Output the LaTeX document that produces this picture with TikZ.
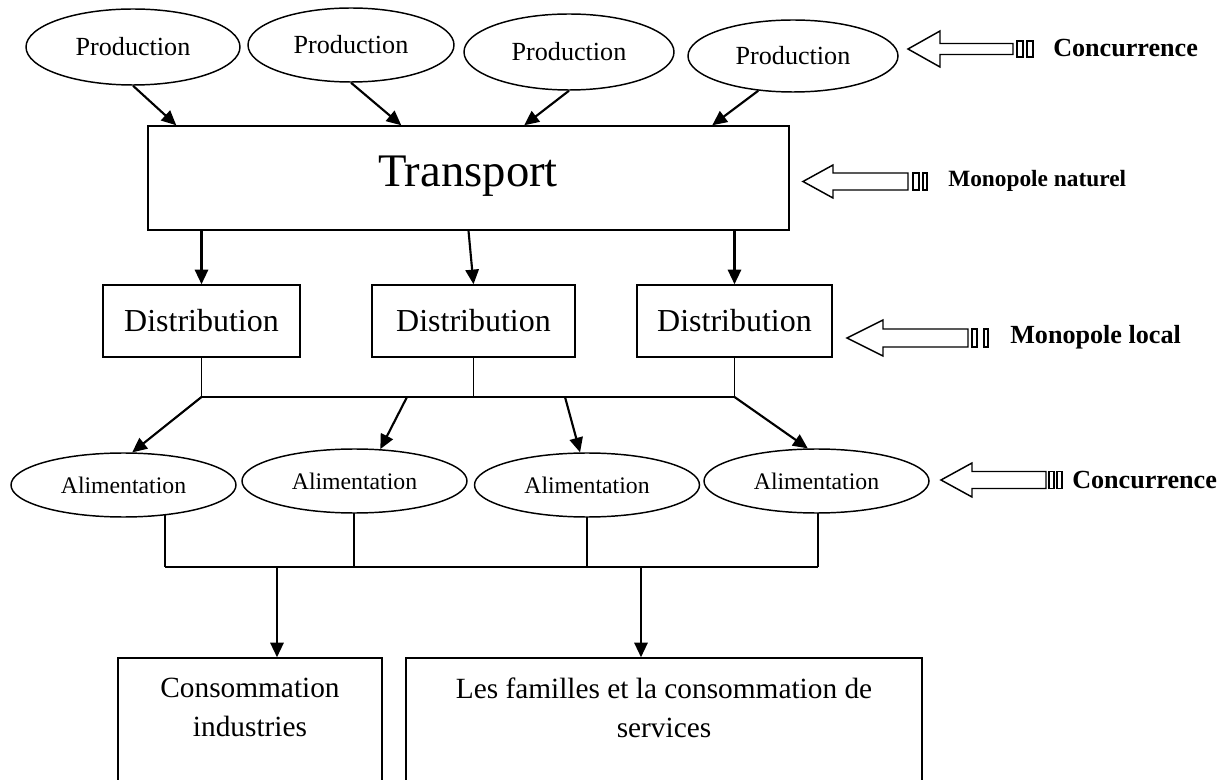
\documentclass[tikz,border=0pt]{standalone}
\usepackage{fontspec}
\setmainfont{Liberation Serif}
\usetikzlibrary{shapes.geometric,arrows.meta,calc}
\pgfdeclarelayer{background}
\pgfsetlayers{background,main}
\begin{document}
\begin{tikzpicture}[x=0.75pt,y=-0.75pt,
  line/.style={line width=1.1pt},
  arr/.style={line width=1.6pt,-{Triangle[length=11pt,width=10pt]}},
  prod/.style={draw,ellipse,fill=white,line width=1.1pt,inner sep=0pt,
    font=\fontsize{19.6}{23}\selectfont},
  alim/.style={draw,ellipse,fill=white,line width=1.1pt,inner sep=0pt,
    minimum width=168.75pt,minimum height=48pt,font=\fontsize{17.8}{21}\selectfont},
  box/.style={draw,rectangle,line width=1.1pt,inner sep=0pt},
  dist/.style={box,minimum height=54pt,font=\fontsize{24}{29}\selectfont},
  tag/.style={anchor=west,inner sep=0pt,font=\bfseries\fontsize{19.6}{23}\selectfont},
  blockarrow/.style={draw,line width=1.1pt,fill=white,line join=miter},
  bottomtext/.style={anchor=north,inner sep=0pt,align=center,
    font=\fontsize{22}{29.3}\selectfont}
]
\useasboundingbox (0,0) rectangle (1232,780);
\begin{pgfonlayer}{background}
  \fill[white] (0,0) rectangle (1232,780);
\end{pgfonlayer}
\clip (0,0) rectangle (1232,780);

% production units
\node[prod,minimum width=160.5pt,minimum height=57pt] (p1) at (133,47) {Production};
\node[prod,minimum width=154.5pt,minimum height=55.5pt] (p2) at (351,45) {Production};
\node[prod,minimum width=157.5pt,minimum height=57pt] (p3) at (569,52) {Production};
\node[prod,minimum width=157.5pt,minimum height=54pt] (p4) at (793,56) {Production};

% transport network
\node[box,minimum width=480.75pt,minimum height=78pt] (tr) at (468.5,178) {};
\node[inner sep=0pt,anchor=base,font=\fontsize{35}{40}\selectfont] (trt) at (468,187) {Transport};

% distribution
\node[dist,minimum width=147.75pt] (d1) at (201.5,321) {Distribution};
\node[dist,minimum width=152.25pt] (d2) at (473.5,321) {Distribution};
\node[dist,minimum width=146.25pt] (d3) at (734.5,321) {Distribution};

% supply
\node[alim] (a1) at (123.5,485) {Alimentation};
\node[alim] (a2) at (354.5,481) {Alimentation};
\node[alim] (a3) at (587,485) {Alimentation};
\node[alim] (a4) at (816.5,481) {Alimentation};

% consumers
\node[box,minimum width=198pt,minimum height=106.5pt] (c1) at (250,729) {};
\node[bottomtext] (c1t) at (250,678) {Consommation\\industries};
\node[box,minimum width=387pt,minimum height=106.5pt] (c2) at (664,729) {};
\node[bottomtext] (c2t) at (664,678) {Les familles et la consommation de\\services};

% production -> transport
\draw[arr] (p1.south) -- ($(tr.north west)+(29,0)$);
\draw[arr] (p2.south) -- ($(tr.north west)+(254,0)$);
\draw[arr] (p3.south) -- ($(tr.north west)+(377,0)$);
\draw[arr] (p4.225) -- ($(tr.north west)+(565,0)$);

% transport -> distribution
\draw[arr] (tr.south -| d1.north) -- (d1.north);
\draw[arr] (tr.south) -- (d2.north);
\draw[arr] (tr.south -| d3.north) -- (d3.north);

% distribution bus
\coordinate (busy) at (0,397);
\coordinate (k2) at (407,397);
\coordinate (k3) at (565,397);
\draw[line] (d1.south) -- (d1.south |- busy) -- (d3.south |- busy) -- (d3.south);
\draw[line] (d2.south) -- (d2.south |- busy);

% distribution -> supply
\draw[arr] (d1.south |- busy) -- (a1.75);
\draw[arr] (k2) -- (a2.51);
\draw[arr] (k3) -- (a3.102);
\draw[arr] (d3.south |- busy) -- (a4.105);

% supply bus (the risers start under the white-filled ellipses)
\coordinate (v1) at (165,567);
\coordinate (v2) at (354,567);
\coordinate (v3) at (587,567);
\coordinate (v4) at (818,567);
\begin{pgfonlayer}{background}
  \draw[line] (v1 |- a1.center) -- (v1);
  \draw[line] (v2 |- a2.center) -- (v2);
  \draw[line] (v3 |- a3.center) -- (v3);
  \draw[line] (v4 |- a4.center) -- (v4);
\end{pgfonlayer}
\draw[line] (v1) -- (v4);

% supply -> consumers
\coordinate (w1) at (277,567);
\coordinate (w2) at (641,567);
\draw[arr] (w1) -- (w1 |- c1.north);
\draw[arr] (w2) -- (w2 |- c2.north);

% market regime arrows
\draw[blockarrow] (908,49) -- (940,31) -- (940,43.5) -- (1013,43.5) -- (1013,54.5)
  -- (940,54.5) -- (940,67) -- cycle;
\draw[blockarrow] (1017,41) rectangle (1023,57);
\draw[blockarrow] (1027,41) rectangle (1033,57);
\node[tag] (t1) at (1053,48) {Concurrence};

\draw[blockarrow] (803,181.5) -- (833,165) -- (833,173) -- (908,173) -- (908,190)
  -- (833,190) -- (833,198) -- cycle;
\draw[blockarrow] (913,173) rectangle (919,190);
\draw[blockarrow] (923,173) rectangle (927,190);
\node[tag,font=\bfseries\fontsize{17.5}{21}\selectfont] (t2) at (948,181) {Monopole naturel};

\draw[blockarrow] (847,338) -- (883,320) -- (883,329) -- (968,329) -- (968,347)
  -- (883,347) -- (883,356) -- cycle;
\draw[blockarrow] (972,329) rectangle (977,347);
\draw[blockarrow] (984,329) rectangle (988,347);
\node[tag] (t3) at (1010,337) {Monopole local};

\draw[blockarrow] (941,480) -- (972,463) -- (972,471.5) -- (1046,471.5) -- (1046,488.5)
  -- (972,488.5) -- (972,497) -- cycle;
\draw[blockarrow] (1049,471.5) rectangle (1054,488.5);
\draw[blockarrow] (1057,471.5) rectangle (1062,488.5);
\node[tag] (t4) at (1072,480) {Concurrence};
\end{tikzpicture}
\end{document}
